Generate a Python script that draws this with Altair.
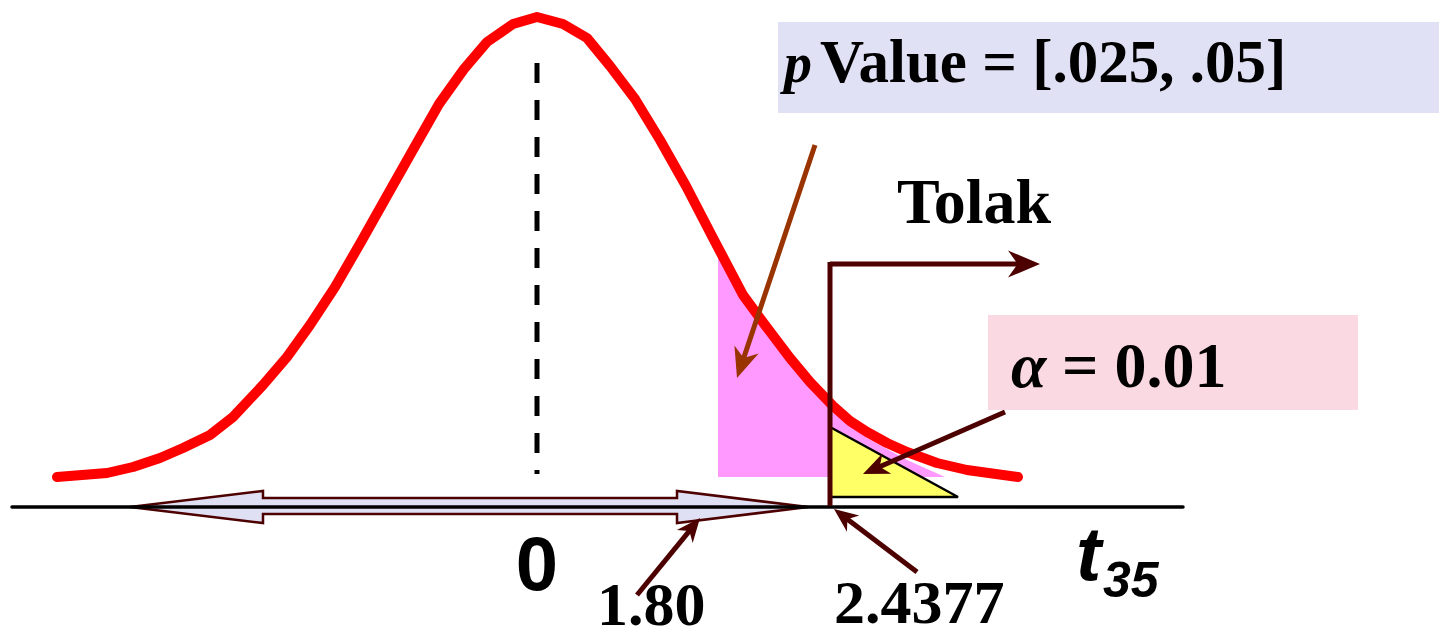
import math
import altair as alt
import pandas as pd

W, H = 1439, 631

# Diagram frame: x grows rightward, y grows downward (0..W, 0..H units)
X_SCALE = alt.Scale(domain=[0, W], nice=False, zero=False)
Y_SCALE = alt.Scale(domain=[0, H], nice=False, zero=False, reverse=True)

# t-distribution curve outline
curve_x = [57, 107, 133, 160, 183, 210, 233, 263, 287, 310, 335, 361, 388, 414, 439, 464, 487, 513, 537,
           563, 587, 610, 635, 660, 686, 713, 743, 765, 790, 810, 833, 850, 867, 887, 907, 937, 967, 1018]
curve_y = [477, 473, 467, 458, 448, 435, 417, 385, 357, 325, 287, 242, 194, 148, 104, 69, 42, 24, 17,
           24, 38, 66, 99, 140, 186, 238, 295, 325, 358, 382, 406, 421, 432, 443, 452, 463, 470, 477]

# p-value region (pink) under the right tail
pval_x = [718, 743, 790, 833, 867, 907, 945]
pval_top = [256, 301, 365, 413, 438, 460, 477]
pval_base = 477

# alpha region (yellow triangle)
alpha_x = [830, 958]
alpha_top = [427, 497]
alpha_base = 497

# centre line at t = 0
center_x = 537
center_y = [63, 474]

# t axis
axis_x = [12, 1183]
axis_y = 507

# double-headed arrow spanning to the 1.80 statistic (left head, shaft, right head)
darrow_part = ["left", "left", "shaft", "shaft", "right", "right"]
darrow_x = [130, 263, 263, 677, 677, 808]
darrow_top = [507, 491, 498, 498, 491, 507]
darrow_bot = [507, 523, 514, 514, 523, 507]

# rejection region marker ("Tolak")
reject_x = 830
reject_y = [262, 506]

# pointer arrows: start, tip, colour, head length
arrow_name = ["stat", "crit", "pval", "alpha", "tolak"]
arrow_x0 = [637, 917, 815, 1005, 830]
arrow_y0 = [595, 572, 145, 412, 264]
arrow_x1 = [700, 834, 737, 863, 1040]
arrow_y1 = [518, 509, 378, 474, 264]
arrow_color = ["#4d0000", "#4d0000", "#993300", "#4d0000", "#4d0000"]
arrow_head = [24, 24, 30, 26, 32]

# label boxes
box_x = [778, 988]
box_x2 = [1439, 1358]
box_y = [22, 315]
box_y2 = [113, 410]
box_color = ["#e1e1f6", "#fbd9e3"]

# labels
serif_text = ["Value = [.025, .05]", "= 0.01", "Tolak", "1.80", "2.4377"]
serif_x = [820, 1062, 897, 597, 834]
serif_y = [82, 387, 223, 625, 623]
serif_size = [61, 64, 64, 62, 62]

serif_it_text = ["p", "\u03b1"]
serif_it_x = [784, 1011]
serif_it_y = [82, 387]
serif_it_size = [56, 64]

sans_text = ["0"]
sans_x = [537]
sans_y = [590]
sans_size = [76]

sans_it_text = ["t", "35"]
sans_it_x = [1076, 1103]
sans_it_y = [580, 597]
sans_it_size = [76, 50]


def xy(xf="x", yf="y"):
    return dict(
        x=alt.X(f"{xf}:Q", scale=X_SCALE, axis=None),
        y=alt.Y(f"{yf}:Q", scale=Y_SCALE, axis=None),
    )


# --- background boxes
boxes = alt.Chart(pd.DataFrame({"x": box_x, "x2": box_x2, "y": box_y, "y2": box_y2, "c": box_color})).mark_rect().encode(
    **xy(), x2="x2:Q", y2="y2:Q", color=alt.Color("c:N", scale=None)
)

# --- shaded regions
pval_df = pd.DataFrame({"x": pval_x, "y": pval_top, "y2": [pval_base] * len(pval_x)})
pval_area = alt.Chart(pval_df).mark_area(color="#ff99ff", opacity=1).encode(**xy(), y2="y2:Q")

alpha_df = pd.DataFrame({"x": alpha_x, "y": alpha_top, "y2": [alpha_base] * len(alpha_x)})
alpha_area = alt.Chart(alpha_df).mark_area(color="#ffff66", opacity=1).encode(**xy(), y2="y2:Q")

alpha_edge_df = pd.DataFrame({"x": [alpha_x[0], alpha_x[1], alpha_x[0]],
                              "y": [alpha_top[0], alpha_base, alpha_base],
                              "i": [0, 1, 2]})
alpha_edge = alt.Chart(alpha_edge_df).mark_line(color="black", strokeWidth=2.5).encode(
    **xy(), order="i:Q"
)

# --- density curve
curve_df = pd.DataFrame({"x": curve_x, "y": curve_y})
curve = alt.Chart(curve_df).mark_line(color="#ff0000", strokeWidth=10, strokeCap="round", strokeJoin="round").encode(**xy())

# --- centre dashed line
center_df = pd.DataFrame({"x": [center_x], "y": [center_y[0]], "y2": [center_y[1]]})
center = alt.Chart(center_df).mark_rule(color="black", strokeWidth=5, strokeDash=[20, 17]).encode(**xy(), y2="y2:Q")

# --- double arrow
darrow_fill_df = pd.DataFrame({"x": darrow_x, "y": darrow_top, "y2": darrow_bot, "part": darrow_part})
darrow_fill = alt.Chart(darrow_fill_df).mark_area(color="#e0e0f5", opacity=1).encode(
    **xy(), y2="y2:Q", detail="part:N"
)

outline_x = darrow_x + darrow_x[::-1][1:]
outline_y = darrow_top + darrow_bot[::-1][1:]
darrow_line_df = pd.DataFrame({"x": outline_x, "y": outline_y, "i": list(range(len(outline_x)))})
darrow_line = alt.Chart(darrow_line_df).mark_line(color="#4d0000", strokeWidth=2.5, strokeJoin="miter").encode(
    **xy(), order="i:Q"
)

# --- t axis
axis_df = pd.DataFrame({"x": [axis_x[0]], "x2": [axis_x[1]], "y": [axis_y]})
axis_line = alt.Chart(axis_df).mark_rule(color="black", strokeWidth=3.5, strokeCap="round").encode(**xy(), x2="x2:Q")

# --- rejection marker vertical
reject_df = pd.DataFrame({"x": [reject_x], "y": [reject_y[0]], "y2": [reject_y[1]]})
reject = alt.Chart(reject_df).mark_rule(color="#4d0000", strokeWidth=5).encode(**xy(), y2="y2:Q")

# --- pointer arrows: shaft + head
rows = []
for n, x0, y0, x1, y1, c, L in zip(arrow_name, arrow_x0, arrow_y0, arrow_x1, arrow_y1, arrow_color, arrow_head):
    dx, dy = x1 - x0, y1 - y0
    d = math.hypot(dx, dy)
    ux, uy = dx / d, dy / d
    ang = math.degrees(math.atan2(dy, dx)) % 360
    rows.append({"name": n, "x": x0, "y": y0, "xe": x1 - ux * L * 0.6, "ye": y1 - uy * L * 0.6,
                 "tx": x1, "ty": y1, "c": c, "ang": ang, "sz": L * L})
arrows_df = pd.DataFrame(rows)

shafts = alt.Chart(arrows_df).mark_rule(strokeWidth=5).encode(
    **xy(), x2="xe:Q", y2="ye:Q", color=alt.Color("c:N", scale=None)
)
HEAD = "M0,0 L-2,-0.85 L-1.4,0 L-2,0.85 Z"
heads = alt.Chart(arrows_df).mark_point(shape=HEAD, filled=True, opacity=1, strokeWidth=0).encode(
    **xy("tx", "ty"),
    color=alt.Color("c:N", scale=None),
    angle=alt.Angle("ang:Q", scale=None),
    size=alt.Size("sz:Q", scale=None),
)


# --- labels
def text_layer(texts, xs, ys, sizes, font, style, align="left"):
    df = pd.DataFrame({"t": texts, "x": xs, "y": ys, "fs": sizes})
    return alt.Chart(df).mark_text(
        font=font, fontWeight="bold", fontStyle=style, align=align, baseline="alphabetic", color="black"
    ).encode(**xy(), text="t:N", size=alt.Size("fs:Q", scale=None))


serif_lbl = text_layer(serif_text, serif_x, serif_y, serif_size, "Liberation Serif", "normal")
serif_it_lbl = text_layer(serif_it_text, serif_it_x, serif_it_y, serif_it_size, "Liberation Serif", "italic")
sans_lbl = text_layer(sans_text, sans_x, sans_y, sans_size, "Liberation Sans", "normal", align="center")
sans_it_lbl = text_layer(sans_it_text, sans_it_x, sans_it_y, sans_it_size, "Liberation Sans", "italic")

chart = alt.layer(
    boxes, pval_area, alpha_area, alpha_edge, curve, center, darrow_fill, darrow_line, axis_line,
    reject, shafts, heads, serif_lbl, serif_it_lbl, sans_lbl, sans_it_lbl
).properties(
    width=W, height=H, autosize=alt.AutoSizeParams(type="none"), padding=0, background="white"
).configure_view(stroke=None)

chart.save("out.html", embed_options={"renderer": "svg", "actions": False})
